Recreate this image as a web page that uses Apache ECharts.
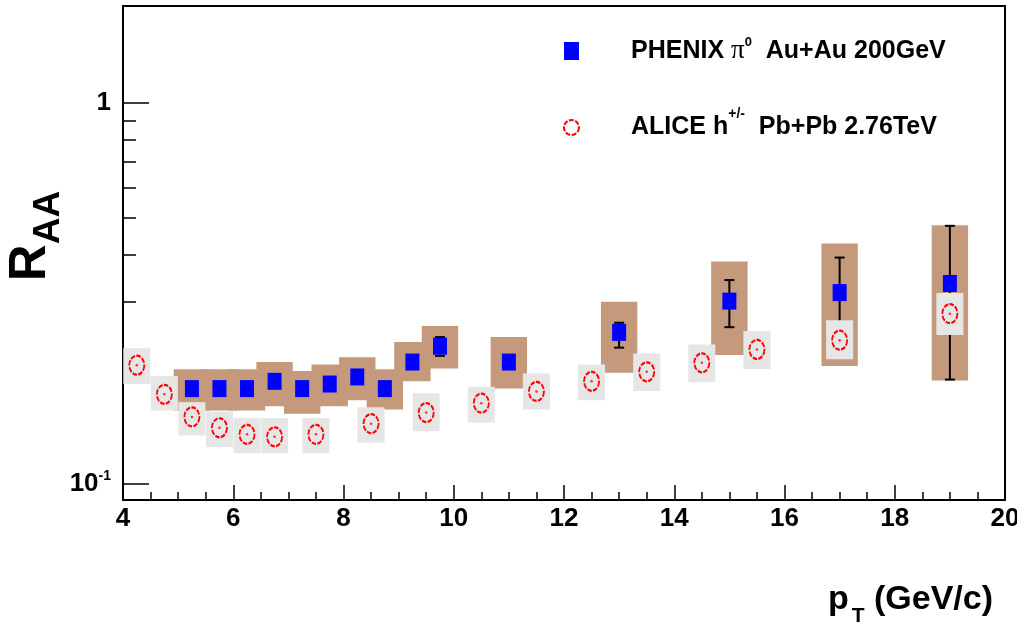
<!DOCTYPE html>
<html><head><meta charset="utf-8">
<script src="https://cdn.jsdelivr.net/npm/echarts@6/dist/echarts.min.js"></script>
<style>html,body{margin:0;padding:0;background:#fff}#c{width:1017px;height:629px}</style>
</head><body><div id="c"></div>
<script>
// ---- data ----
const phenixPt     = [5.25, 5.75, 6.25, 6.75, 7.25, 7.75, 8.25, 8.75, 9.25, 9.75, 11, 13, 15, 17, 19];
const phenixRaa    = [0.178, 0.178, 0.178, 0.186, 0.178, 0.183, 0.191, 0.178, 0.209, 0.230, 0.209, 0.250, 0.302, 0.318, 0.336];
const phenixStatLo = [0.172, 0.172, 0.172, 0.180, 0.172, 0.177, 0.185, 0.172, 0.203, 0.217, 0.203, 0.228, 0.258, 0.243, 0.188];
const phenixStatHi = [0.184, 0.184, 0.184, 0.192, 0.184, 0.189, 0.197, 0.184, 0.215, 0.243, 0.215, 0.265, 0.343, 0.393, 0.476];
const phenixSysLo  = [0.156, 0.156, 0.156, 0.160, 0.153, 0.160, 0.166, 0.157, 0.186, 0.201, 0.178, 0.196, 0.218, 0.204, 0.187];
const phenixSysHi  = [0.200, 0.200, 0.200, 0.209, 0.198, 0.206, 0.215, 0.200, 0.236, 0.260, 0.243, 0.301, 0.384, 0.428, 0.478];

const alicePt    = [4.25, 4.75, 5.25, 5.75, 6.25, 6.75, 7.5, 8.5, 9.5, 10.5, 11.5, 12.5, 13.5, 14.5, 15.5, 17, 19];
const aliceRaa   = [0.205, 0.172, 0.150, 0.1405, 0.135, 0.133, 0.135, 0.144, 0.154, 0.163, 0.175, 0.186, 0.197, 0.208, 0.2255, 0.2385, 0.280];
const aliceSysLo = [0.183, 0.156, 0.134, 0.125, 0.1205, 0.1205, 0.1205, 0.1285, 0.1375, 0.145, 0.157, 0.166, 0.1755, 0.185, 0.2005, 0.2125, 0.246];
const aliceSysHi = [0.227, 0.192, 0.164, 0.155, 0.149, 0.149, 0.149, 0.159, 0.173, 0.180, 0.195, 0.206, 0.220, 0.2325, 0.252, 0.269, 0.317];

const xTickMin = 4, xTickMax = 20, xTickStep = 2;
const yRange = [0.0908, 1.797];
const yMajorTicks = [0.1, 1];
const yMinorTicks = [0.2, 0.3, 0.4, 0.5, 0.6, 0.7, 0.8, 0.9];

const phenixName = 'PHENIX π0 Au+Au 200GeV';
const aliceName  = 'ALICE h+/- Pb+Pb 2.76TeV';

// ---- style ----
const FONT = '"Liberation Sans", Arial, Helvetica, sans-serif';
const BROWN = '#c59a7c', GRAY = '#e6e6e6';
const PHX_HALF = 0.33, ALI_HALF = 0.245;

function boxRenderer(half, color) {
  return function (params, api) {
    const x = api.value(0);
    const p1 = api.coord([x - half, api.value(2)]);
    const p2 = api.coord([x + half, api.value(1)]);
    return { type: 'rect', shape: { x: p1[0], y: p1[1], width: p2[0] - p1[0], height: p2[1] - p1[1] },
      style: { fill: color } };
  };
}
function errRenderer(params, api) {
  const x = api.value(0);
  const lo = api.coord([x, api.value(1)]);
  const hi = api.coord([x, api.value(2)]);
  const c = 5;
  const st = { stroke: '#000', lineWidth: 2 };
  return { type: 'group', children: [
    { type: 'line', shape: { x1: lo[0], y1: lo[1], x2: hi[0], y2: hi[1] }, style: st },
    { type: 'line', shape: { x1: lo[0] - c, y1: lo[1], x2: lo[0] + c, y2: lo[1] }, style: st },
    { type: 'line', shape: { x1: hi[0] - c, y1: hi[1], x2: hi[0] + c, y2: hi[1] }, style: st }
  ]};
}

const chart = echarts.init(document.getElementById('c'), null, { renderer: 'canvas' });
const bold = { fontFamily: FONT, fontWeight: 'bold', color: '#000' };

chart.setOption({
  animation: false,
  backgroundColor: '#fff',
  grid: { left: 123, right: 12, top: 6, bottom: 129, containLabel: false, outerBoundsMode: 'none',
    show: true, borderColor: '#000', borderWidth: 2, backgroundColor: 'transparent' },
  xAxis: {
    type: 'value', min: xTickMin, max: xTickMax, interval: xTickStep,
    axisLine: { show: true, onZero: false, lineStyle: { color: '#000', width: 2 } },
    axisTick: { inside: true, length: 15, lineStyle: { color: '#000', width: 1.5 } },
    minorTick: { show: true, splitNumber: 4, length: 8, lineStyle: { color: '#000', width: 1.5 } },
    splitLine: { show: false }, minorSplitLine: { show: false },
    axisLabel: Object.assign({ fontSize: 26, margin: 6, showMaxLabel: true, showMinLabel: true, hideOverlap: false }, bold)
  },
  yAxis: [{
    type: 'log', logBase: 10, min: yRange[0], max: yRange[1],
    axisLine: { show: true, lineStyle: { color: '#000', width: 2 } },
    axisTick: { inside: true, length: 26, customValues: yMajorTicks, lineStyle: { color: '#000', width: 1.5 } },
    splitLine: { show: false },
    axisLabel: Object.assign({ fontSize: 26, margin: 12, customValues: yMajorTicks,
      formatter: function (v) { return v >= 0.99 ? '1' : '{b|10}{s|-1}'; },
      rich: { b: Object.assign({ fontSize: 26, lineHeight: 30 }, bold), s: Object.assign({ fontSize: 14, lineHeight: 16, verticalAlign: 'top' }, bold) }
    }, bold)
  }, {
    type: 'log', logBase: 10, min: yRange[0], max: yRange[1], position: 'left',
    axisLine: { show: false },
    axisTick: { inside: true, length: 13, customValues: yMinorTicks, lineStyle: { color: '#000', width: 1.5 } },
    splitLine: { show: false },
    axisLabel: { show: false }
  }],
  legend: {
    orient: 'vertical', left: 558, top: 31, itemWidth: 15, itemHeight: 18, itemGap: 43,
    selectedMode: false,
    data: [
      { name: phenixName, icon: 'rect', itemStyle: { color: '#0000ff', borderWidth: 0 } },
      { name: aliceName, icon: 'circle', itemStyle: { color: 'rgba(0,0,0,0)', borderColor: '#ff0000', borderWidth: 2, borderType: [5, 1.5] } }
    ],
    formatter: function (name) {
      if (name === phenixName) return '{a1p|PHENIX }{pi|π}{s1|0}{a1|  Au+Au 200GeV}';
      return '{a2p|ALICE h}{s2|+/-}{a2|  Pb+Pb 2.76TeV}';
    },
    textStyle: {
      rich: {
        a1p: Object.assign({ fontSize: 25, lineHeight: 30, padding: [0, 0, 0, 47] }, bold),
        a1: Object.assign({ fontSize: 25, lineHeight: 30 }, bold),
        pi: { fontFamily: '"Liberation Serif", "DejaVu Serif", serif', fontSize: 27, lineHeight: 30, color: '#000' },
        s1: Object.assign({ fontSize: 13, lineHeight: 12, verticalAlign: 'top' }, bold),
        a2p: Object.assign({ fontSize: 25, lineHeight: 40, padding: [0, 0, 0, 47] }, bold),
        a2: Object.assign({ fontSize: 25, lineHeight: 40 }, bold),
        s2: Object.assign({ fontSize: 14, lineHeight: 10, verticalAlign: 'top' }, bold)
      }
    }
  },
  graphic: [
    { type: 'text', x: 31, y: 236, rotation: Math.PI / 2,
      style: { text: '{r|R}{s|AA}', align: 'center', verticalAlign: 'middle',
        rich: { r: Object.assign({ fontSize: 51, lineHeight: 72 }, bold), s: Object.assign({ fontSize: 37, lineHeight: 34, verticalAlign: 'bottom' }, bold) } } },
    { type: 'text', x: 993, y: 600,
      style: { text: '{p|p}{t|T}{m| (GeV/c)}', align: 'right', verticalAlign: 'middle',
        rich: { p: Object.assign({ fontSize: 34, lineHeight: 54 }, bold), m: Object.assign({ fontSize: 34, lineHeight: 54 }, bold),
          t: Object.assign({ fontSize: 21, lineHeight: 20, verticalAlign: 'bottom', padding: [0, 0, 0, 3] }, bold) } } }
  ],
  series: [
    { type: 'custom', name: 'phenixSys', silent: true, z: 1, encode: { x: 0, y: [1, 2] },
      data: phenixPt.map((x, i) => [x, phenixSysLo[i], phenixSysHi[i]]), renderItem: boxRenderer(PHX_HALF, BROWN) },
    { type: 'custom', name: 'phenixStat', silent: true, z: 2, encode: { x: 0, y: [1, 2] },
      data: phenixPt.map((x, i) => [x, phenixStatLo[i], phenixStatHi[i]]), renderItem: errRenderer },
    { type: 'custom', name: 'aliceSys', silent: true, z: 3, encode: { x: 0, y: [1, 2] },
      data: alicePt.map((x, i) => [x, aliceSysLo[i], aliceSysHi[i]]), renderItem: boxRenderer(ALI_HALF, GRAY) },
    { type: 'scatter', name: phenixName, z: 4, symbol: 'rect', symbolSize: [14, 17],
      itemStyle: { color: '#0000ff', opacity: 1 },
      data: phenixPt.map((x, i) => [x, phenixRaa[i]]) },
    { type: 'scatter', name: aliceName, z: 5, symbol: 'circle', symbolSize: [15, 19],
      itemStyle: { color: 'rgba(0,0,0,0)', borderColor: '#ff0000', borderWidth: 2, borderType: [5, 1.5], opacity: 1 },
      data: alicePt.map((x, i) => [x, aliceRaa[i]]) },
    { type: 'scatter', name: 'aliceDot', z: 6, symbol: 'circle', symbolSize: 2.5, silent: true,
      itemStyle: { color: '#ff0000' },
      data: alicePt.map((x, i) => [x, aliceRaa[i]]) }
  ]
});
</script></body></html>
